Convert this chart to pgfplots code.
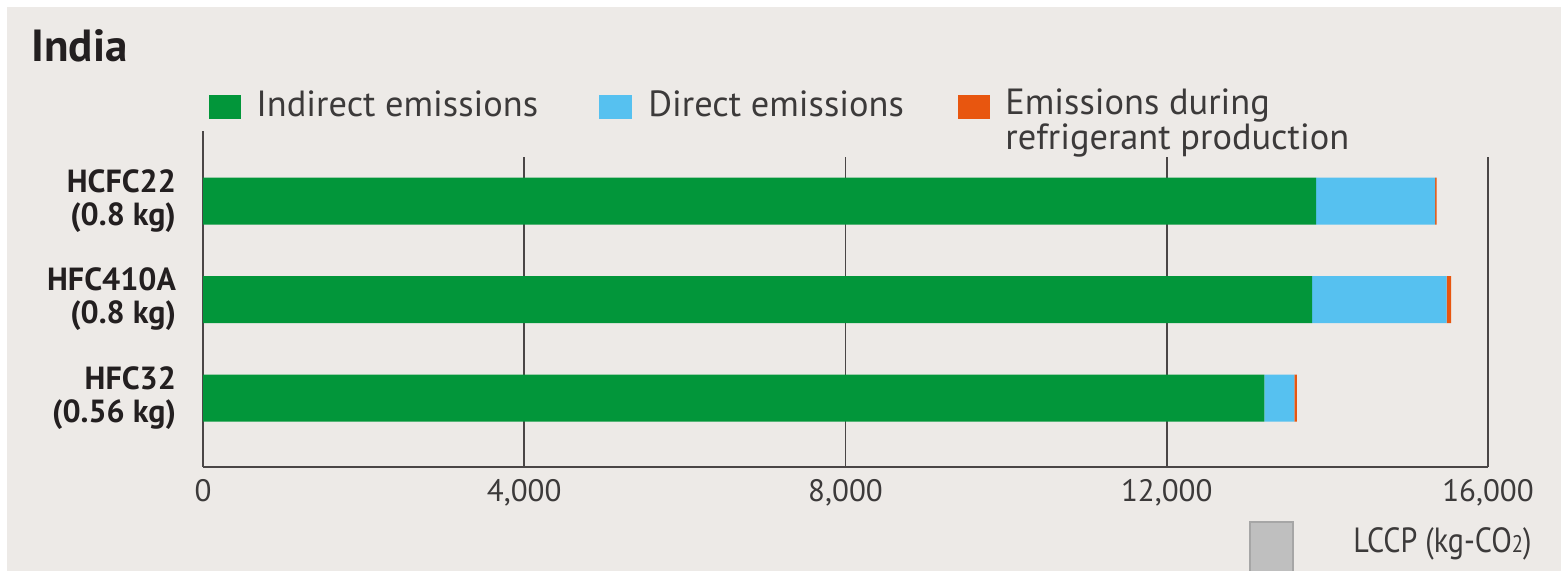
\documentclass[border=0pt]{standalone}
\usepackage{fontspec}
\setmainfont{PT Sans}
\newfontfamily\narrowfont{PT Sans}[FakeStretch=0.86]
\usepackage{pgfplots}
\usepackage{pgfplotstable}
\pgfplotsset{compat=1.18}

\definecolor{panelbg}{HTML}{EDEAE7}
\definecolor{cgreen}{HTML}{02963A}
\definecolor{cblue}{HTML}{56C1F0}
\definecolor{corange}{HTML}{E8560F}
\definecolor{axisgray}{HTML}{4A4646}
\definecolor{textdark}{HTML}{231F20}
\definecolor{textgray}{HTML}{3C3A3A}

% Life-cycle climate performance per refrigerant (kg-CO2)
% idx: 0 = HFC32, 1 = HFC410A, 2 = HCFC22
\pgfplotstableread{
idx indirect direct production
0   13215    375    30
1   13810    1675   55
2   13860    1480   20
}\lccp

\begin{document}
\begin{tikzpicture}
% page and panel background, laid out in pixel-like units (0.5pt each)
\begin{scope}[x=0.5pt,y=-0.5pt,shift={(0,285.5pt)}]
  \fill[white] (0,0) rectangle (1561,571);
  \fill[panelbg] (7,7) rectangle (1561,571);
\end{scope}

\begin{axis}[
  scale only axis,
  width=642.5pt, height=155pt,
  at={(101.5pt,52pt)}, anchor=south west,
  xmin=0, xmax=16000,
  ymin=-0.70, ymax=2.447,
  xbar stacked, bar width=23.5pt,
  axis x line*=bottom, axis y line*=left,
  axis line style={axisgray, line width=1pt},
  xmajorgrids, grid style={axisgray, line width=0.8pt},
  xtick={0,4000,8000,12000,16000},
  scaled x ticks=false,
  /pgf/number format/1000 sep={,},
  /pgf/number format/assume math mode=true,
  major tick length=0pt,
  xticklabel style={font=\fontsize{15.5}{15.5}\selectfont, text=textgray, yshift=-2.5pt},
  ytick={0,1,2},
  yticklabels={{HFC32\\(0.56 kg)},{HFC410A\\(0.8 kg)},{HCFC22\\(0.8 kg)}},
  yticklabel style={font=\bfseries\fontsize{16}{16.5}\selectfont, text=textdark,
                    align=right, anchor=east, xshift=-10pt},
  clip=false,
]
\addplot[fill=cgreen, draw=none] table[x=indirect, y=idx] {\lccp};
\addplot[fill=cblue, draw=none] table[x=direct, y=idx] {\lccp};
\addplot[fill=corange, draw=none] table[x=production, y=idx] {\lccp};
% the value axis line continues up past the plotting area
\draw[axisgray, line width=1pt] (axis cs:0,2.447) -- (axis cs:0,2.711);
\end{axis}

\begin{scope}[x=0.5pt,y=-0.5pt,shift={(0,285.5pt)}]
  % title
  \node[anchor=base west, inner sep=0, text=textdark, font=\bfseries\fontsize{22.5}{22.5}\selectfont] at (31,62) {India};
  % legend
  \fill[cgreen]  (209,95) rectangle (241,119);
  \node[anchor=base west, inner sep=0, text=textgray, font=\fontsize{18.2}{18.2}\selectfont] at (256,117) {Indirect emissions};
  \fill[cblue]   (599,95) rectangle (632,119);
  \node[anchor=base west, inner sep=0, text=textgray, font=\fontsize{18.2}{18.2}\selectfont] at (648,117) {Direct emissions};
  \fill[corange] (958,95) rectangle (990,119);
  \node[anchor=base west, inner sep=0, text=textgray, align=left, font=\fontsize{18.2}{16.5}\selectfont] at (1005,150) {Emissions during\\refrigerant production};
  % unit key
  \filldraw[fill=black!25, draw=black!35, line width=0.6pt] (1250,522) rectangle (1293,575);
  \node[anchor=base west, inner sep=0, text=textgray, font=\narrowfont\fontsize{17.5}{17.5}\selectfont] at (1353,553) {LCCP (kg-CO{\fontsize{12}{12}\selectfont 2})};
  \pgfresetboundingbox
  \useasboundingbox (0,0) rectangle (1561,571);
\end{scope}
\end{tikzpicture}
\end{document}
